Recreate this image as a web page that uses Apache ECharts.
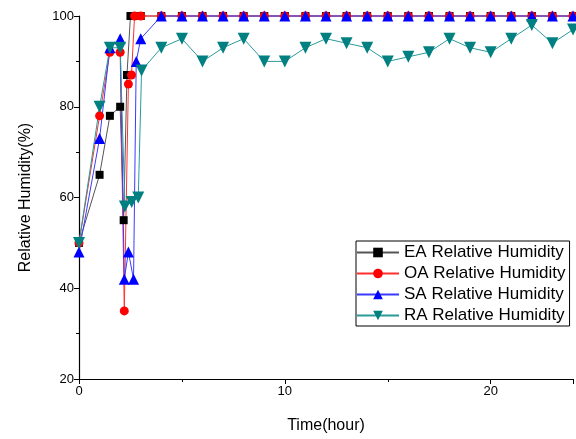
<!DOCTYPE html>
<html>
<head>
<meta charset="utf-8">
<script src="https://cdn.jsdelivr.net/npm/echarts@6/dist/echarts.min.js"></script>
<style>html,body{margin:0;padding:0;background:#fff}#c{width:576px;height:439px}</style>
</head>
<body>
<div id="c"></div>
<script>
var eaTime = [0, 1, 1.5, 2, 2.17, 2.33, 2.5, 3, 4, 5, 6, 7, 8, 9, 10, 11, 12, 13, 14, 15, 16, 17, 18, 19, 20, 21, 22, 23, 24];
var eaValues = [50, 65, 78, 80, 55, 87, 100, 100, 100, 100, 100, 100, 100, 100, 100, 100, 100, 100, 100, 100, 100, 100, 100, 100, 100, 100, 100, 100, 100];

var oaTime = [0, 1, 1.5, 2, 2.2, 2.4, 2.55, 2.7, 3, 4, 5, 6, 7, 8, 9, 10, 11, 12, 13, 14, 15, 16, 17, 18, 19, 20, 21, 22, 23, 24];
var oaValues = [50, 78, 92, 92, 35, 85, 87, 100, 100, 100, 100, 100, 100, 100, 100, 100, 100, 100, 100, 100, 100, 100, 100, 100, 100, 100, 100, 100, 100, 100];

var saTime = [0, 1, 1.5, 2, 2.2, 2.4, 2.65, 2.78, 3, 4, 5, 6, 7, 8, 9, 10, 11, 12, 13, 14, 15, 16, 17, 18, 19, 20, 21, 22, 23, 24];
var saValues = [48, 73, 93, 95, 42, 48, 42, 90, 95, 100, 100, 100, 100, 100, 100, 100, 100, 100, 100, 100, 100, 100, 100, 100, 100, 100, 100, 100, 100, 100];

var raTime = [0, 1, 1.5, 2, 2.23, 2.56, 2.88, 3.04, 4, 5, 6, 7, 8, 9, 10, 11, 12, 13, 14, 15, 16, 17, 18, 19, 20, 21, 22, 23, 24];
var raValues = [50, 80, 93, 93, 58, 59, 60, 88, 93, 95, 90, 93, 95, 90, 90, 93, 95, 94, 93, 90, 91, 92, 95, 93, 92, 95, 98, 94, 97];

var seriesNames = ['EA Relative Humidity', 'OA Relative Humidity', 'SA Relative Humidity', 'RA Relative Humidity'];
var xTicks = [0, 10, 20];
var yTicks = [20, 40, 60, 80, 100];

function pairs(t, v) { return t.map(function (x, i) { return [x, v[i]]; }); }

var font = 'Liberation Sans, Arial, sans-serif';
var chart = echarts.init(document.getElementById('c'));
chart.setOption({
  animation: false,
  grid: { left: 79, right: 3, top: 16, bottom: 58, containLabel: false },
  legend: {
    orient: 'vertical', left: 356, top: 241,
    borderColor: '#000', borderWidth: 1, padding: [3, 4, 2, 0],
    itemWidth: 42, itemHeight: 12, itemGap: 4,
    textStyle: { fontFamily: font, fontSize: 17, color: '#000' },
    data: seriesNames
  },
  xAxis: {
    type: 'value', min: 0, max: 24, interval: 10,
    name: 'Time(hour)', nameLocation: 'middle', nameGap: 39,
    nameTextStyle: { fontFamily: font, fontSize: 16, color: '#000' },
    axisLine: { lineStyle: { color: '#000', width: 1.2 } },
    axisTick: { length: 5, lineStyle: { color: '#000' } },
    minorTick: { show: true, splitNumber: 2, length: 3, lineStyle: { color: '#000' } },
    axisLabel: { fontFamily: font, fontSize: 13, color: '#000', margin: 6,
      formatter: function (v) { return xTicks.indexOf(v) >= 0 ? String(v) : ''; } },
    splitLine: { show: false }
  },
  yAxis: {
    type: 'value', min: 20, max: 100, interval: 20,
    name: 'Relative Humidity(%)', nameLocation: 'middle', nameGap: 45, nameRotate: 90,
    nameTextStyle: { fontFamily: font, fontSize: 16, color: '#000' },
    axisLine: { show: true, lineStyle: { color: '#000', width: 1.2 } },
    axisTick: { show: true, length: 5, lineStyle: { color: '#000' } },
    minorTick: { show: true, splitNumber: 2, length: 3, lineStyle: { color: '#000' } },
    axisLabel: { fontFamily: font, fontSize: 13, color: '#000', margin: 5,
      formatter: function (v) { return yTicks.indexOf(v) >= 0 ? String(v) : ''; } },
    splitLine: { show: false }
  },
  series: [
    { name: seriesNames[0], type: 'line', data: pairs(eaTime, eaValues), symbol: 'rect', symbolSize: 8,
      itemStyle: { color: '#000' }, lineStyle: { color: '#555', width: 1 }, clip: false },
    { name: seriesNames[1], type: 'line', data: pairs(oaTime, oaValues), symbol: 'circle', symbolSize: 9,
      itemStyle: { color: '#ff0000' }, lineStyle: { color: '#ff3030', width: 1 }, clip: false },
    { name: seriesNames[2], type: 'line', data: pairs(saTime, saValues), symbol: 'triangle', symbolSize: 11,
      itemStyle: { color: '#0000ff' }, lineStyle: { color: '#3a3aff', width: 1 }, clip: false },
    { name: seriesNames[3], type: 'line', data: pairs(raTime, raValues), symbol: 'triangle', symbolRotate: 180, symbolSize: 12,
      itemStyle: { color: '#008080' }, lineStyle: { color: '#2a9a9a', width: 1 }, clip: false }
  ]
});
</script>
</body>
</html>
